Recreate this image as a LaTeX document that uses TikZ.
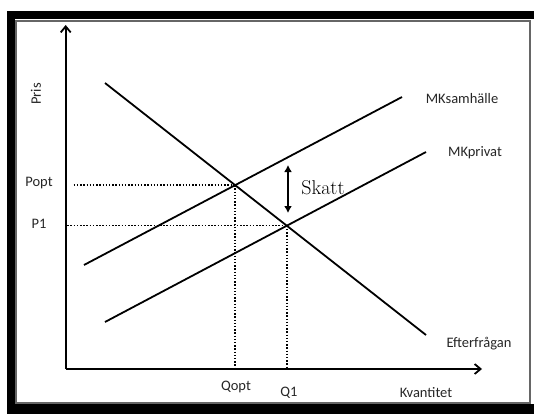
\documentclass[tikz,border=0pt]{standalone}
\usepackage{fontspec}
\newfontfamily\labelfont{Carlito}
\usetikzlibrary{positioning,arrows.meta}

\begin{document}
\begin{tikzpicture}[x=1pt,y=-1pt,
  curve/.style={line width=1.8pt, black},
  axis/.style={line width=1.8pt, -{Straight Barb[length=6pt,width=10pt,line width=1.8pt]}},
  guide/.style={line width=1.5pt, dash pattern=on 1.5pt off 1.7pt},
  taxarrow/.style={line width=1.8pt, {Latex[length=7pt,width=8pt]}-{Latex[length=7pt,width=8pt]}},
  lbl/.style={font=\labelfont\fontsize{14.5}{16}\selectfont, text=black!85, inner sep=0pt}
]
  \useasboundingbox (0,0) rectangle (534,414);
  % frame
  \fill (7,11) rectangle (534,19);
  \fill (7,11) rectangle (15,414);
  \fill (7,404) rectangle (534,414);
  \draw[black!60, line width=1.2pt] (16,21) rectangle (530,403);

  % axes
  \coordinate (O) at (65.7,369);
  \coordinate (ytop) at (65.7,25);
  \coordinate (xend) at (482,369);
  \draw[axis] (O) -- (ytop);
  \draw[axis] (O) -- (xend);

  % curves
  \coordinate (dem1) at (105,83);
  \coordinate (dem2) at (426,335);
  \coordinate (sam1) at (84,265);
  \coordinate (sam2) at (402,97);
  \coordinate (priv1) at (105,322);
  \coordinate (priv2) at (426,152);
  \draw[curve] (dem1) -- (dem2);
  \draw[curve] (sam1) -- (sam2);
  \draw[curve] (priv1) -- (priv2);
  \coordinate (opt) at (intersection of dem1--dem2 and sam1--sam2);
  \coordinate (eq) at (intersection of dem1--dem2 and priv1--priv2);

  % dotted guides
  \draw[guide] ([xshift=8pt]opt -| O) -- (opt);
  \draw[guide] ([xshift=1.5pt]eq -| O) -- (eq);
  \draw[guide] (opt) -- (opt |- O);
  \draw[guide] (eq) -- (eq |- O);

  % tax
  \coordinate (tax1) at (288,165);
  \coordinate (tax2) at (288,213);
  \draw[taxarrow] (tax1) -- (tax2);
  \node[inner sep=0pt, font=\fontsize{20}{22}\selectfont] (skatt) at (323,188) {Skatt};

  % labels
  \node[lbl, rotate=90] (pris) at (36,94) {Pris};
  \node[lbl] (msam) at (462,99) {MKsamhälle};
  \node[lbl] (mpriv) at (475,153) {MKprivat};
  \node[lbl] (popt) at (39,183) {Popt};
  \node[lbl] (p1) at (39,224) {P1};
  \node[lbl] (eft) at (479,344) {Efterfrågan};
  \node[lbl] (qopt) at (236,387) {Qopt};
  \node[lbl] (q1) at (289,393) {Q1};
  \node[lbl] (kvant) at (426,393) {Kvantitet};
\end{tikzpicture}
\end{document}
